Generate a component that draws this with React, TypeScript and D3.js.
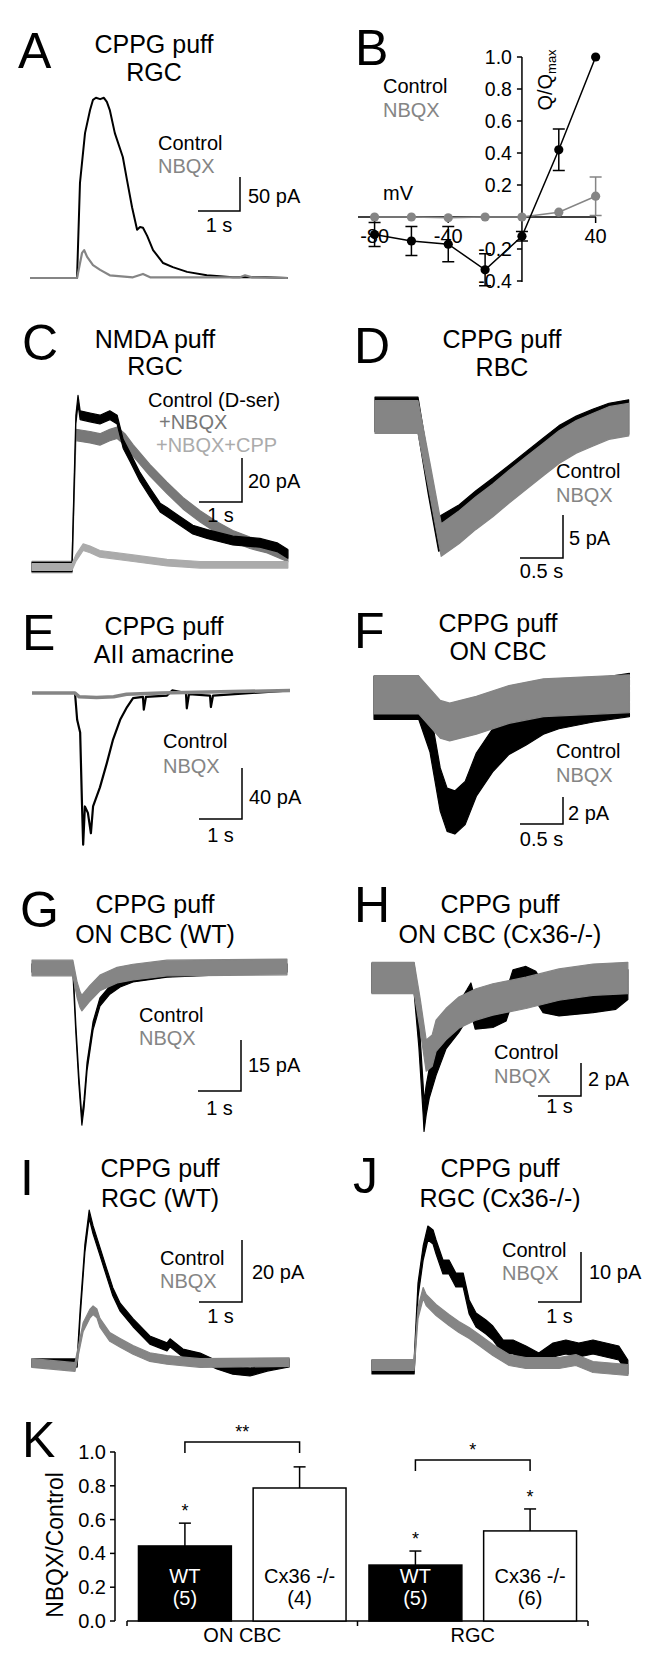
import React from "react";
import * as d3 from "d3";

type Pt = [number, number];

// ---------- Panel A: CPPG puff, RGC (time s, current pA) ----------
const A_control: Pt[] = [[0,0],[1.12,0],[1.19,140],[1.31,213],[1.43,247],[1.5,262],[1.57,265],[1.67,263],[1.76,265],[1.83,259],[1.9,247],[2.02,213],[2.21,178],[2.31,144],[2.43,104],[2.55,71],[2.62,75],[2.69,74],[2.79,62],[2.93,41],[3.17,22],[3.4,16],[3.74,9],[4.21,4],[4.83,1],[5.6,1],[6.14,0]];
const A_nbqx: Pt[] = [[0,0],[1.12,0],[1.24,37],[1.29,41],[1.36,31],[1.5,19],[1.67,12],[1.9,4],[2.45,1],[2.69,6],[2.86,1],[5.0,1],[5.12,4],[5.29,1],[6.14,0]];

// ---------- Panel B: Q/Qmax vs mV ----------
const B_voltage = [-80, -60, -40, -20, 0, 20, 40];
const B_control = [-0.11, -0.15, -0.17, -0.33, -0.12, 0.42, 1.0];
const B_controlErr = [0.075, 0.09, 0.11, 0.1, 0.03, 0.13, 0];
const B_nbqx = [0, 0, -0.005, 0, 0, 0.03, 0.13];
const B_nbqxErr = [0, 0, 0, 0, 0, 0.02, 0.12];
const B_yTicks = [1.0, 0.8, 0.6, 0.4, 0.2, -0.2, -0.4];
const B_xTicks = [-80, -40, 40];

// ---------- Panel C: NMDA puff, RGC ----------
const C_control: Pt[] = [[0,0],[0.93,0],[1.02,67],[1.07,76],[1.12,69],[1.35,68],[1.58,67],[1.81,69],[1.98,67],[2.12,56],[2.28,50],[2.51,41],[2.74,34],[2.98,27],[3.14,25],[3.44,21],[3.74,17],[4.07,15],[4.67,12],[5.3,11],[5.7,9],[5.95,6]];
const C_nbqx: Pt[] = [[0,0],[0.93,0],[1.02,60],[1.35,59],[1.58,58],[1.81,60],[1.98,61],[2.16,58],[2.35,53],[2.74,44],[3.14,36],[3.51,29],[3.91,23],[4.3,18],[4.67,14],[5.07,11],[5.47,9],[5.95,5]];
const C_cpp: Pt[] = [[0,0],[0.93,0],[1.02,4],[1.19,9],[1.35,8],[1.58,6],[2.35,4],[3.14,2],[3.91,1],[5.95,1]];

// ---------- Panel D: CPPG puff, RBC ----------
const D_control: Pt[] = [[0,0.3],[0.5,0.3],[0.62,-7],[0.74,-13.6],[0.98,-12.2],[1.17,-10.6],[1.37,-9.1],[1.56,-7.6],[1.76,-6.0],[1.95,-4.5],[2.14,-3.0],[2.34,-1.9],[2.53,-1.1],[2.72,-0.4],[2.95,0]];
const D_nbqx: Pt[] = [[0,0],[0.5,0],[0.64,-7.3],[0.77,-14.3],[0.98,-12.8],[1.17,-11.2],[1.37,-9.7],[1.56,-8.1],[1.76,-6.5],[1.95,-5.0],[2.14,-3.5],[2.34,-2.3],[2.53,-1.5],[2.72,-0.7],[2.95,-0.3]];

// ---------- Panel E: CPPG puff, AII amacrine ----------
const E_control: Pt[] = [[0,0],[1.0,0],[1.05,-21],[1.12,-31],[1.16,-84],[1.19,-119],[1.23,-89],[1.3,-94],[1.37,-110],[1.42,-89],[1.58,-74],[1.74,-55],[1.88,-37],[2.05,-21],[2.21,-11],[2.35,-4],[2.58,-3],[2.6,-13],[2.65,-3],[3.14,-2],[3.26,2],[3.58,0],[3.6,-12],[3.65,-1],[4.14,-2],[4.16,-11],[4.21,-2],[6.0,2]];
const E_nbqx: Pt[] = [[0,0],[1.0,0],[1.1,-3],[1.5,-3.5],[1.9,-3],[2.2,-1],[3.0,0],[6.0,2]];

// ---------- Panel F: CPPG puff, ON CBC ----------
const F_control: Pt[] = [[0,-0.2],[0.52,-0.2],[0.65,-2.6],[0.77,-7.0],[0.85,-8.5],[0.94,-8.7],[1.06,-8.0],[1.19,-5.9],[1.38,-4.1],[1.57,-2.8],[1.77,-2.1],[1.97,-1.3],[2.15,-0.9],[2.55,-0.4],[2.97,0]];
const F_nbqx: Pt[] = [[0,0],[0.52,0],[0.77,-1.8],[0.88,-2.0],[1.19,-1.5],[1.57,-0.7],[1.97,-0.2],[2.97,0.1]];

// ---------- Panel G: CPPG puff, ON CBC (WT) ----------
const G_control: Pt[] = [[0,0],[0.95,0],[1.02,-18],[1.09,-33],[1.16,-45],[1.21,-40],[1.28,-29],[1.42,-17],[1.58,-10],[1.81,-6.5],[2.05,-4.4],[2.35,-2.9],[3.14,-1.5],[5.93,0]];
const G_nbqx: Pt[] = [[0,0],[0.95,0],[1.05,-6.5],[1.12,-9.4],[1.16,-10.3],[1.35,-7.4],[1.58,-4.4],[1.98,-2.1],[2.35,-1.2],[3.14,0],[5.93,0.3]];

// ---------- Panel H: CPPG puff, ON CBC (Cx36-/-) ----------
const H_control: Pt[] = [[0,0],[0.98,0],[1.09,-3.3],[1.19,-7.4],[1.21,-8.4],[1.26,-7.4],[1.33,-6.4],[1.49,-5.0],[1.72,-3.4],[2.02,-2.4],[2.21,-1.6],[2.3,-1.2],[2.4,-2.2],[2.81,-2.1],[3.12,-1.7],[3.28,-0.4],[3.58,-0.2],[3.81,-0.5],[3.98,-1.2],[4.35,-1.4],[5.14,-1.2],[5.67,-1.0],[5.95,-0.4]];
const H_nbqx: Pt[] = [[0,0],[0.98,0],[1.12,-2.2],[1.26,-4.7],[1.4,-4.4],[1.49,-3.5],[1.72,-2.8],[2.02,-2.1],[2.42,-1.6],[2.81,-1.3],[3.58,-0.9],[4.35,-0.4],[5.14,-0.1],[5.95,0]];

// ---------- Panel I: CPPG puff, RGC (WT) ----------
const I_control: Pt[] = [[0,0],[1.05,0],[1.12,16],[1.23,37],[1.33,48],[1.42,43],[1.58,36],[1.74,29],[1.88,23],[2.05,18],[2.35,13],[2.74,7.4],[3.14,5.2],[3.21,6.5],[3.51,3.2],[3.91,1.9],[4.3,-0.6],[4.67,-2.3],[5.07,-2.9],[5.47,-1.3],[5.98,0]];
const I_nbqx: Pt[] = [[0,0],[1.0,-1.3],[1.19,11.6],[1.35,16],[1.42,17],[1.51,16],[1.58,13],[1.81,8.4],[2.05,6.5],[2.35,4.2],[2.74,1.9],[3.14,1],[3.91,0],[5.98,0.3]];

// ---------- Panel J: CPPG puff, RGC (Cx36-/-) ----------
const J_control: Pt[] = [[0,-0.4],[0.98,-0.4],[1.07,15],[1.19,22.4],[1.3,26.4],[1.42,25.6],[1.49,23.6],[1.65,19.6],[1.79,19.6],[1.95,17],[2.12,17],[2.26,11.6],[2.42,9],[2.65,7.6],[2.81,6.4],[3.05,3.6],[3.28,3.6],[3.58,2.4],[3.88,1],[4.21,3],[4.51,3.6],[4.81,3],[5.14,3.6],[5.44,3],[5.74,2.4],[5.95,-0.4]];
const J_nbqx: Pt[] = [[0,0],[0.98,0],[1.07,10.4],[1.19,14.4],[1.26,13],[1.49,11],[1.79,9],[2.02,7.6],[2.26,6.4],[2.49,5],[2.81,3],[3.19,1],[3.58,0.4],[4.35,0.4],[4.74,1],[5.14,-0.4],[5.95,-1]];

// ---------- Panel K: NBQX/Control ----------
const K_groups = ["ON CBC", "RGC"];
const K_genotypes = ["WT", "Cx36 -/-"];
const K_wtMean = [0.444, 0.331];
const K_wtErr = [0.135, 0.083];
const K_wtN = [5, 5];
const K_koMean = [0.787, 0.533];
const K_koErr = [0.125, 0.13];
const K_koN = [4, 6];
const K_yTicks = [0, 0.2, 0.4, 0.6, 0.8, 1.0];
const K_sig = ["**", "*"];

// ---------- styles ----------
const FONT = "'Liberation Sans', Arial, Helvetica, sans-serif";
const BLACK = "#000";
const GRAY = "#858585";
const DGRAY = "#787878";
const LGRAY = "#ababab";

interface TraceSpec { data: Pt[]; color: string; noise?: number; width?: number }
interface LegendItem { text: string; color: string; x: number; y: number }
interface PanelSpec {
  letter: string; letterPos: [number, number];
  title: [string, string]; titleX: number; titleY: [number, number];
  x0: number; yBase: number; tPx: number; iPx: number;
  traces: TraceSpec[];
  legend: LegendItem[];
  sb: { x: number; y: number; t: number; i: number; tLabel: string; iLabel: string; iLabelX: number; iLabelY: number; tLabelY: number };
}

const leg = (x: number, y: number, dy: number): LegendItem[] => [
  { text: "Control", color: BLACK, x, y },
  { text: "NBQX", color: GRAY, x, y: y + dy },
];

const panels: PanelSpec[] = [
  {
    letter: "A", letterPos: [18, 68], title: ["CPPG puff", "RGC"], titleX: 154, titleY: [53, 81],
    x0: 30, yBase: 278, tPx: 42, iPx: 0.68,
    traces: [{ data: A_control, color: BLACK, width: 2 }, { data: A_nbqx, color: GRAY, width: 2.2 }],
    legend: leg(158, 150, 23),
    sb: { x: 240, y: 211, t: 1, i: 50, tLabel: "1 s", iLabel: "50 pA", iLabelX: 248, iLabelY: 203, tLabelY: 232 },
  },
  {
    letter: "C", letterPos: [22, 360], title: ["NMDA puff", "RGC"], titleX: 155, titleY: [348, 375],
    x0: 32, yBase: 567, tPx: 43, iPx: 2.2,
    traces: [
      { data: C_nbqx, color: DGRAY, noise: 2.6 },
      { data: C_control, color: BLACK, noise: 2.0 },
      { data: C_cpp, color: LGRAY, noise: 1.5 },
    ],
    legend: [
      { text: "Control (D-ser)", color: BLACK, x: 148, y: 407 },
      { text: "+NBQX", color: DGRAY, x: 159, y: 429 },
      { text: "+NBQX+CPP", color: LGRAY, x: 156, y: 452 },
    ],
    sb: { x: 242, y: 502, t: 1, i: 20, tLabel: "1 s", iLabel: "20 pA", iLabelX: 248, iLabelY: 488, tLabelY: 522 },
  },
  {
    letter: "D", letterPos: [354, 363], title: ["CPPG puff", "RBC"], titleX: 502, titleY: [348, 376],
    x0: 375, yBase: 417, tPx: 86, iPx: 8.6,
    traces: [{ data: D_control, color: BLACK, noise: 2.0 }, { data: D_nbqx, color: GRAY, noise: 1.9 }],
    legend: leg(556, 478, 24),
    sb: { x: 563, y: 558, t: 0.5, i: 5, tLabel: "0.5 s", iLabel: "5 pA", iLabelX: 569, iLabelY: 545, tLabelY: 578 },
  },
  {
    letter: "E", letterPos: [22, 650], title: ["CPPG puff", "AII amacrine"], titleX: 164, titleY: [635, 663],
    x0: 32, yBase: 693, tPx: 43, iPx: 1.275,
    traces: [{ data: E_control, color: BLACK, width: 2.2 }, { data: E_nbqx, color: GRAY, width: 3.5 }],
    legend: leg(163, 748, 25),
    sb: { x: 242, y: 819, t: 1, i: 40, tLabel: "1 s", iLabel: "40 pA", iLabelX: 249, iLabelY: 804, tLabelY: 842 },
  },
  {
    letter: "F", letterPos: [354, 648], title: ["CPPG puff", "ON CBC"], titleX: 498, titleY: [632, 660],
    x0: 374, yBase: 695, tPx: 86, iPx: 13.5,
    traces: [{ data: F_control, color: BLACK, noise: 1.6 }, { data: F_nbqx, color: GRAY, noise: 1.4 }],
    legend: leg(556, 758, 24),
    sb: { x: 563, y: 824, t: 0.5, i: 2, tLabel: "0.5 s", iLabel: "2 pA", iLabelX: 568, iLabelY: 820, tLabelY: 846 },
  },
  {
    letter: "G", letterPos: [20, 927], title: ["CPPG puff", "ON CBC (WT)"], titleX: 155, titleY: [913, 943],
    x0: 32, yBase: 968, tPx: 43, iPx: 3.4,
    traces: [{ data: G_control, color: BLACK, noise: 1.2 }, { data: G_nbqx, color: GRAY, noise: 2.3 }],
    legend: leg(139, 1022, 23),
    sb: { x: 241, y: 1091, t: 1, i: 15, tLabel: "1 s", iLabel: "15 pA", iLabelX: 248, iLabelY: 1072, tLabelY: 1115 },
  },
  {
    letter: "H", letterPos: [354, 922], title: ["CPPG puff", "ON CBC (Cx36-/-)"], titleX: 500, titleY: [913, 943],
    x0: 372, yBase: 978, tPx: 43, iPx: 16.5,
    traces: [{ data: H_control, color: BLACK, noise: 0.9 }, { data: H_nbqx, color: GRAY, noise: 0.95 }],
    legend: leg(494, 1059, 24),
    sb: { x: 581, y: 1096, t: 1, i: 2, tLabel: "1 s", iLabel: "2 pA", iLabelX: 588, iLabelY: 1086, tLabelY: 1113 },
  },
  {
    letter: "I", letterPos: [20, 1195], title: ["CPPG puff", "RGC (WT)"], titleX: 160, titleY: [1177, 1207],
    x0: 32, yBase: 1363, tPx: 43, iPx: 3.1,
    traces: [{ data: I_control, color: BLACK, noise: 1.3 }, { data: I_nbqx, color: GRAY, noise: 1.4 }],
    legend: leg(160, 1265, 23),
    sb: { x: 242, y: 1302, t: 1, i: 20, tLabel: "1 s", iLabel: "20 pA", iLabelX: 252, iLabelY: 1279, tLabelY: 1323 },
  },
  {
    letter: "J", letterPos: [353, 1193], title: ["CPPG puff", "RGC (Cx36-/-)"], titleX: 500, titleY: [1177, 1207],
    x0: 372, yBase: 1365, tPx: 43, iPx: 5,
    traces: [{ data: J_control, color: BLACK, noise: 1.4 }, { data: J_nbqx, color: GRAY, noise: 1.1 }],
    legend: leg(502, 1257, 23),
    sb: { x: 581, y: 1302, t: 1, i: 10, tLabel: "1 s", iLabel: "10 pA", iLabelX: 589, iLabelY: 1279, tLabelY: 1323 },
  },
];

function Letter({ text, pos }: { text: string; pos: [number, number] }) {
  return <text x={pos[0]} y={pos[1]} fontSize={50} fontFamily={FONT} fill={BLACK}>{text}</text>;
}

function TracePanel({ p }: { p: PanelSpec }) {
  const tMax = d3.max(p.traces.flatMap((tr) => tr.data.map((d) => d[0]))) as number;
  const x = d3.scaleLinear().domain([0, tMax]).range([p.x0, p.x0 + tMax * p.tPx]);
  const y = d3.scaleLinear().domain([0, 1]).range([p.yBase, p.yBase - p.iPx]);
  const line = d3.line<Pt>().x((d) => x(d[0])).y((d) => y(d[1]));
  const sbW = x(p.sb.t) - x(0);
  const sbH = y(0) - y(p.sb.i);
  return (
    <g>
      <Letter text={p.letter} pos={p.letterPos} />
      {p.title.map((t, k) => (
        <text key={k} x={p.titleX} y={p.titleY[k]} textAnchor="middle" fontSize={25} fontFamily={FONT}>{t}</text>
      ))}
      {p.traces.map((tr, k) => {
        if (tr.noise) {
          const n = tr.noise;
          const area = d3.area<Pt>().x((d) => x(d[0])).y0((d) => y(d[1] - n)).y1((d) => y(d[1] + n));
          return <path key={k} d={area(tr.data) || ""} fill={tr.color} stroke={tr.color} strokeWidth={1.2} strokeLinejoin="round" />;
        }
        return <path key={k} d={line(tr.data) || ""} fill="none" stroke={tr.color} strokeWidth={tr.width || 2} strokeLinejoin="round" />;
      })}
      {p.legend.map((l, k) => (
        <text key={k} x={l.x} y={l.y} fontSize={20} fontFamily={FONT} fill={l.color}>{l.text}</text>
      ))}
      <path d={`M${p.sb.x - sbW},${p.sb.y}H${p.sb.x}V${p.sb.y - sbH}`} fill="none" stroke={BLACK} strokeWidth={1.5} />
      <text x={p.sb.iLabelX} y={p.sb.iLabelY} fontSize={20} fontFamily={FONT}>{p.sb.iLabel}</text>
      <text x={p.sb.x - sbW / 2} y={p.sb.tLabelY} textAnchor="middle" fontSize={20} fontFamily={FONT}>{p.sb.tLabel}</text>
    </g>
  );
}

function PanelB() {
  const x = d3.scaleLinear().domain([-89, 40.2]).range([358, 596]);
  const y = d3.scaleLinear().domain([-0.4, 1.0]).range([281, 57]);
  const ctrl: Pt[] = B_voltage.map((v, i) => [v, B_control[i]]);
  const nb: Pt[] = B_voltage.map((v, i) => [v, B_nbqx[i]]);
  const line = d3.line<Pt>().x((d) => x(d[0])).y((d) => y(d[1]));
  const errBars = (vals: number[], errs: number[], color: string) =>
    B_voltage.map((v, i) =>
      errs[i] > 0.025 ? (
        <path key={i}
          d={`M${x(v) - 6},${y(vals[i] + errs[i])}H${x(v) + 6}M${x(v)},${y(vals[i] + errs[i])}V${y(vals[i] - errs[i])}M${x(v) - 6},${y(vals[i] - errs[i])}H${x(v) + 6}`}
          stroke={color} strokeWidth={1.5} fill="none" />
      ) : null
    );
  const x0 = x(0);
  return (
    <g>
      <Letter text="B" pos={[355, 65]} />
      <line x1={x.range()[0]} x2={x.range()[1]} y1={y(0)} y2={y(0)} stroke={BLACK} strokeWidth={1.5} />
      <line x1={x0} x2={x0} y1={y(1.0)} y2={y(-0.4) + 1} stroke={BLACK} strokeWidth={1.5} />
      {B_yTicks.map((t) => (
        <g key={t}>
          <line x1={x0 - 5} x2={x0} y1={y(t)} y2={y(t)} stroke={BLACK} strokeWidth={1.5} />
          <text x={x0 - 10} y={y(t)} dy="0.35em" textAnchor="end" fontSize={19.5} fontFamily={FONT}>{t.toFixed(1)}</text>
        </g>
      ))}
      {B_xTicks.map((t) => (
        <g key={t}>
          <line x1={x(t)} x2={x(t)} y1={y(0)} y2={y(0) + 6} stroke={BLACK} strokeWidth={1.5} />
          <text x={x(t)} y={243} textAnchor="middle" fontSize={20} fontFamily={FONT}>{t}</text>
        </g>
      ))}
      <text x={383} y={200} fontSize={20} fontFamily={FONT}>mV</text>
      <text transform="translate(552,80) rotate(-90)" textAnchor="middle" fontSize={20} fontFamily={FONT}>
        Q/Q<tspan dy={4} fontSize={13}>max</tspan>
      </text>
      {errBars(B_nbqx, B_nbqxErr, GRAY)}
      <path d={line(nb) || ""} fill="none" stroke={GRAY} strokeWidth={1.5} />
      {nb.map((d, i) => <circle key={i} cx={x(d[0])} cy={y(d[1])} r={4.6} fill={GRAY} />)}
      {errBars(B_control, B_controlErr, BLACK)}
      <path d={line(ctrl) || ""} fill="none" stroke={BLACK} strokeWidth={1.5} />
      {ctrl.map((d, i) => <circle key={i} cx={x(d[0])} cy={y(d[1])} r={4.6} fill={BLACK} />)}
      <text x={383} y={93} fontSize={20} fontFamily={FONT} fill={BLACK}>Control</text>
      <text x={383} y={117} fontSize={20} fontFamily={FONT} fill={GRAY}>NBQX</text>
    </g>
  );
}

function PanelK() {
  const y = d3.scaleLinear().domain([0, 1]).range([1621, 1452]);
  const gx = d3.scaleBand<string>().domain(K_groups).range([127, 588]).padding(0);
  const ix = d3.scaleBand<string>().domain(K_genotypes).range([0, gx.bandwidth()]).paddingInner(0.19).paddingOuter(0.1);
  const bw = ix.bandwidth();
  const bars = K_groups.flatMap((g, gi) => [
    { g, gen: K_genotypes[0], mean: K_wtMean[gi], err: K_wtErr[gi], n: K_wtN[gi], fill: BLACK, txt: "#fff" },
    { g, gen: K_genotypes[1], mean: K_koMean[gi], err: K_koErr[gi], n: K_koN[gi], fill: "#fff", txt: BLACK },
  ]);
  const bx = (b: { g: string; gen: string }) => (gx(b.g) as number) + (ix(b.gen) as number);
  const bracketY = [1442, 1460];
  return (
    <g>
      <Letter text="K" pos={[22, 1457]} />
      <line x1={115} x2={115} y1={y(1)} y2={y(0)} stroke={BLACK} strokeWidth={1.5} />
      {K_yTicks.map((t) => (
        <g key={t}>
          <line x1={110} x2={115} y1={y(t)} y2={y(t)} stroke={BLACK} strokeWidth={1.5} />
          <text x={106} y={y(t)} dy="0.35em" textAnchor="end" fontSize={20} fontFamily={FONT}>{t.toFixed(1)}</text>
        </g>
      ))}
      <text transform="translate(63,1545) rotate(-90)" textAnchor="middle" fontSize={23} fontFamily={FONT}>NBQX/Control</text>
      <line x1={gx.range()[0]} x2={gx.range()[1]} y1={y(0)} y2={y(0)} stroke={BLACK} strokeWidth={1.5} />
      {[...K_groups.map((g) => gx(g) as number), gx.range()[1]].map((t, i) => (
        <line key={i} x1={t} x2={t} y1={y(0)} y2={y(0) + 5} stroke={BLACK} strokeWidth={1.5} />
      ))}
      {K_groups.map((g) => (
        <text key={g} x={(gx(g) as number) + gx.bandwidth() / 2} y={1642} textAnchor="middle" fontSize={20} fontFamily={FONT}>{g}</text>
      ))}
      {bars.map((b, i) => {
        const x0 = bx(b);
        const cx = x0 + bw / 2;
        const top = y(b.mean + b.err);
        return (
          <g key={i}>
            <line x1={cx} x2={cx} y1={y(b.mean)} y2={top} stroke={BLACK} strokeWidth={1.5} />
            <line x1={cx - 6} x2={cx + 6} y1={top} y2={top} stroke={BLACK} strokeWidth={1.5} />
            <rect x={x0} y={y(b.mean)} width={bw} height={y(0) - y(b.mean)} fill={b.fill} stroke={BLACK} strokeWidth={1.5} />
            <text x={cx} y={1583} textAnchor="middle" fontSize={20} fontFamily={FONT} fill={b.txt}>{b.gen}</text>
            <text x={cx} y={1605} textAnchor="middle" fontSize={20} fontFamily={FONT} fill={b.txt}>({b.n})</text>
            {!(b.g === "ON CBC" && b.gen !== "WT") && (
              <text x={cx} y={top - 6} textAnchor="middle" fontSize={18} fontFamily={FONT}>*</text>
            )}
          </g>
        );
      })}
      {K_groups.map((g, gi) => {
        const x1 = (gx(g) as number) + (ix(K_genotypes[0]) as number) + bw / 2;
        const x2 = (gx(g) as number) + (ix(K_genotypes[1]) as number) + bw / 2;
        const by = bracketY[gi];
        return (
          <g key={g}>
            <path d={`M${x1},${by + 11}V${by}H${x2}V${by + 11}`} fill="none" stroke={BLACK} strokeWidth={1.5} />
            <text x={(x1 + x2) / 2} y={by - 4} textAnchor="middle" fontSize={18} fontFamily={FONT}>{K_sig[gi]}</text>
          </g>
        );
      })}
    </g>
  );
}

export default function App() {
  return (
    <svg width={652} height={1658} style={{ position: "absolute", left: 0, top: 0, background: "#fff" }} fontFamily={FONT}>
      <rect x={0} y={0} width={652} height={1658} fill="#fff" />
      {panels.map((p) => <TracePanel key={p.letter} p={p} />)}
      <PanelB />
      <PanelK />
    </svg>
  );
}
